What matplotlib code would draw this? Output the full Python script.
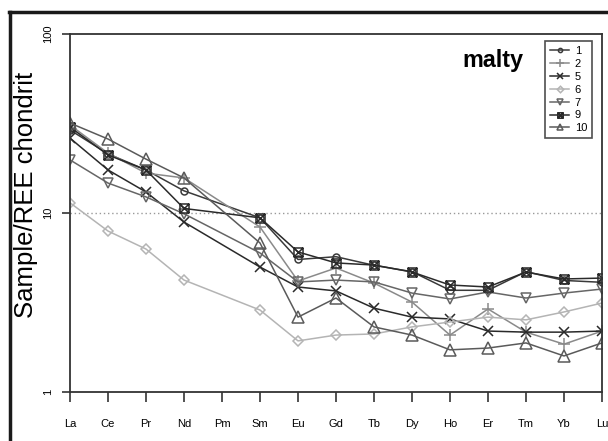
import numpy as np
import matplotlib
matplotlib.use("Agg")
import matplotlib.pyplot as plt
from matplotlib.path import Path
from matplotlib.lines import Line2D

plt.rcParams['font.family'] = ['Liberation Sans', 'DejaVu Sans']

elements = ["La", "Ce", "Pr", "Nd", "Pm", "Sm", "Eu", "Gd", "Tb", "Dy", "Ho", "Er", "Tm", "Yb", "Lu"]
nan = np.nan

s1 = [29.1, 21.4, 17.4, 13.3, nan, 9.4, 5.5, 5.7, 5.1, 4.7, 3.7, 3.7, 4.7, 4.2, 4.1]
s2 = [31.0, 21.6, 16.7, 15.7, nan, 8.35, 4.17, 4.93, 4.06, 3.18, 2.08, 2.91, 2.16, 1.85, 2.19]
s5 = [26.2, 17.4, 13.1, 8.9, nan, 4.99, 3.86, 3.67, 2.94, 2.62, 2.56, 2.19, 2.16, 2.16, 2.19]
s6 = [11.4, 7.93, 6.29, 4.22, nan, 2.87, 1.93, 2.08, 2.11, 2.31, 2.46, 2.62, 2.53, 2.80, 3.14]
s7 = [19.8, 14.7, 12.3, 9.9, nan, 5.98, 4.12, 4.22, 4.12, 3.57, 3.31, 3.62, 3.35, 3.57, 3.76]
s9 = [30.2, 21.1, 17.4, 10.6, nan, 9.4, 6.06, 5.26, 5.12, 4.68, 3.96, 3.86, 4.68, 4.28, 4.33]
s10 = [31.8, 25.9, 20.0, 15.7, nan, 6.8, 2.62, 3.35, 2.31, 2.08, 1.72, 1.76, 1.88, 1.59, 1.88]

labels = ["1", "2", "5", "6", "7", "9", "10"]
series = [s1, s2, s5, s6, s7, s9, s10]

# square with a cross inside
box_x = Path([(-1, -1), (1, -1), (1, 1), (-1, 1), (-1, -1),
              (-1, -1), (1, 1), (-1, 1), (1, -1)],
             [Path.MOVETO, Path.LINETO, Path.LINETO, Path.LINETO, Path.CLOSEPOLY,
              Path.MOVETO, Path.LINETO, Path.MOVETO, Path.LINETO])

styles = [
    dict(color="#3a3a3a", marker="o", ms=5),
    dict(color="#8a8a8a", marker="+", ms=9),
    dict(color="#2a2a2a", marker="x", ms=6.5),
    dict(color="#b4b4b4", marker="D", ms=5.5),
    dict(color="#666666", marker="v", ms=7.5),
    dict(color="#2a2a2a", marker=box_x, ms=6.5),
    dict(color="#5a5a5a", marker="^", ms=8),
]

fig = plt.figure(figsize=(6.08, 4.41), dpi=100)
ax = fig.add_axes([70 / 608, 1 - 392 / 441, 532 / 608, 358 / 441])

x = np.arange(len(elements))
for vals, lab, st in zip(series, labels, styles):
    v = np.array(vals, dtype=float)
    m = ~np.isnan(v)
    ax.plot(x[m], v[m], color=st["color"], lw=1.1, marker=st["marker"],
            ms=st["ms"], mfc="none", mec=st["color"], mew=1.1, label=lab)

ax.axhline(10, color="#999999", lw=1.0, ls=(0, (1, 2)), zorder=0)

ax.set_yscale("log")
ax.set_ylim(1, 100)
ax.set_xlim(0, len(elements) - 1)
ax.set_xticks(x)
ax.set_xticklabels(elements, fontsize=8)
ax.set_yticks([1, 10, 100])
ax.set_yticklabels(["1", "10", "100"], fontsize=8, rotation=90, va="center")
ax.yaxis.set_minor_locator(matplotlib.ticker.NullLocator())
ax.tick_params(axis="x", length=7.5, width=1.2, pad=12, color="#333333")
ax.tick_params(axis="y", length=6, width=1.2, pad=6, color="#333333")
for sp in ax.spines.values():
    sp.set_linewidth(1.3)
    sp.set_color("#333333")

ax.text(0.795, 0.927, "malty", transform=ax.transAxes, fontsize=16.8,
        fontweight="bold", ha="center", va="center")

leg = ax.legend(loc="upper right", bbox_to_anchor=(592 / 608, 1 - 41 / 441),
                bbox_transform=fig.transFigure, borderaxespad=0,
                fontsize=8, frameon=True, fancybox=False, edgecolor="#222222",
                handlelength=1.7, handletextpad=0.5, labelspacing=0.26,
                borderpad=0.45, markerscale=0.6)
leg.get_frame().set_linewidth(1.2)

fig.text(26 / 608, 1 - 195 / 441, "Sample/REE chondrit", rotation=90,
         fontsize=18.5, ha="center", va="center")

# outer frame edges
fig.add_artist(Line2D([9 / 608, 1], [1 - 12 / 441] * 2, transform=fig.transFigure,
                      color="#1a1a1a", lw=2.5))
fig.add_artist(Line2D([10 / 608] * 2, [0, 1 - 12 / 441], transform=fig.transFigure,
                      color="#1a1a1a", lw=2.5))

fig.savefig("out.png", dpi=100)
